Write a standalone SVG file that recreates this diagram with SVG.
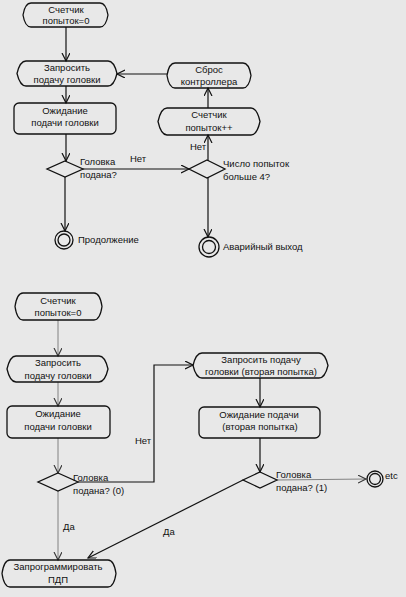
<svg xmlns="http://www.w3.org/2000/svg" width="406" height="597" viewBox="0 0 406 597">
<defs>
<marker id="ah" markerWidth="10" markerHeight="10" refX="8" refY="4" orient="auto" markerUnits="userSpaceOnUse">
<path d="M0,0 L8,4 L0,8" fill="none" stroke="#111" stroke-width="1.2"/>
</marker>
<marker id="ahg" markerWidth="10" markerHeight="10" refX="8" refY="4" orient="auto" markerUnits="userSpaceOnUse">
<path d="M0,0 L8,4 L0,8" fill="none" stroke="#333" stroke-width="1.1"/>
</marker>
</defs>
<style>
.s{fill:none;stroke:#111;stroke-width:1.3}
.t{font-family:"Liberation Sans",Arial,sans-serif;font-size:9.5px;fill:#111}
.c{text-anchor:middle}
.l{fill:none;stroke:#111;stroke-width:1.2}
.g{fill:none;stroke:#777;stroke-width:0.9}
</style>
<rect width="406" height="597" fill="#e8e8e8"/>

<g id="connectors">
<line class="l" x1="66" y1="27" x2="66" y2="61" marker-end="url(#ah)"/>
<line class="l" x1="66" y1="86" x2="66" y2="103" marker-end="url(#ah)"/>
<line class="l" x1="66" y1="134" x2="66" y2="161" marker-end="url(#ah)"/>
<line class="l" x1="65" y1="177" x2="65" y2="231" marker-end="url(#ah)"/>
<line class="l" x1="83" y1="169" x2="189" y2="169" marker-end="url(#ah)"/>
<line class="l" x1="208" y1="161" x2="208" y2="135" marker-end="url(#ah)"/>
<line class="l" x1="208" y1="108" x2="208" y2="88" marker-end="url(#ah)"/>
<line class="l" x1="167" y1="74" x2="117" y2="74" marker-end="url(#ah)"/>
<line class="l" x1="208" y1="177" x2="208" y2="237" marker-end="url(#ah)"/>
<text class="t" x="130" y="162">Нет</text>
<text class="t" x="190" y="150">Нет</text>

<line class="g" x1="58" y1="320" x2="58" y2="356" marker-end="url(#ahg)"/>
<line class="g" x1="58" y1="382" x2="58" y2="406" marker-end="url(#ahg)"/>
<line class="g" x1="58" y1="438" x2="58" y2="473" marker-end="url(#ahg)"/>
<polyline class="l" points="78,482 154,482 154,365 193,365" marker-end="url(#ah)"/>
<line class="l" x1="260" y1="378" x2="260" y2="407" marker-end="url(#ah)"/>
<line class="l" x1="260" y1="438" x2="260" y2="472" marker-end="url(#ah)"/>
<line class="g" x1="277" y1="480" x2="366" y2="479" marker-end="url(#ahg)"/>
<line class="l" x1="243" y1="480" x2="88" y2="558" marker-end="url(#ah)"/>
<line class="g" x1="58" y1="491" x2="58" y2="560" marker-end="url(#ahg)"/>
<text class="t" x="135" y="444">Нет</text>
<text class="t" x="163" y="535">Да</text>
<text class="t" x="63" y="530">Да</text>
</g>

<g id="n1"><path class="s" d="M31,3 H100 Q106,3 108,15 Q106,27 100,27 H31 Q25,27 23,15 Q25,3 31,3 Z"/>
<text class="t c" x="66" y="13">Счетчик</text><text class="t c" x="66" y="24">попыток=0</text></g>

<g id="n2"><path class="s" d="M26,61 H108 Q114,61 117,73.5 Q114,86 108,86 H26 Q20,86 17,73.5 Q20,61 26,61 Z"/>
<text class="t c" x="67" y="71">Запросить</text><text class="t c" x="67" y="83">подачу головки</text></g>

<g id="n3"><rect class="s" x="14" y="103" width="102" height="31" rx="5"/>
<text class="t c" x="65" y="114">Ожидание</text><text class="t c" x="65" y="126">подачи головки</text></g>

<g id="d1"><path class="s" d="M65,161 L83,169 L65,177 L47,169 Z"/>
<text class="t" x="80" y="165">Головка</text><text class="t" x="80" y="178">подана?</text></g>

<g id="f1"><circle class="s" cx="64" cy="240" r="9"/><circle class="s" cx="64" cy="240" r="6"/>
<text class="t" x="78" y="243">Продолжение</text></g>

<g id="n4"><path class="s" d="M175,63 H243 Q249,63 251,75.5 Q249,88 243,88 H175 Q169,88 167,75.5 Q169,63 175,63 Z"/>
<text class="t c" x="209" y="73">Сброс</text><text class="t c" x="209" y="85">контроллера</text></g>

<g id="n5"><path class="s" d="M167,108 H251 Q257,108 260,121.5 Q257,135 251,135 H167 Q161,135 158,121.5 Q161,108 167,108 Z"/>
<text class="t c" x="209" y="118">Счетчик</text><text class="t c" x="209" y="131">попыток++</text></g>

<g id="d2"><path class="s" d="M207,160 L225,169 L207,178 L189,169 Z"/>
<text class="t" x="223" y="167">Число попыток</text><text class="t" x="223" y="180">больше 4?</text></g>

<g id="f2"><circle class="s" cx="209" cy="247" r="10"/><circle class="s" cx="209" cy="247" r="6.5"/>
<text class="t" x="223" y="250">Аварийный выход</text></g>

<g id="n6"><path class="s" d="M23,293 H94 Q100,293 102,306.5 Q100,320 94,320 H23 Q17,320 15,306.5 Q17,293 23,293 Z"/>
<text class="t c" x="58" y="304">Счетчик</text><text class="t c" x="58" y="316">попыток=0</text></g>

<g id="n7"><path class="s" d="M16,356 H99 Q105,356 108,369 Q105,382 99,382 H16 Q10,382 7,369 Q10,356 16,356 Z"/>
<text class="t c" x="58" y="366">Запросить</text><text class="t c" x="58" y="379">подачу головки</text></g>

<g id="n8"><rect class="s" x="7" y="406" width="103" height="32" rx="5"/>
<text class="t c" x="58" y="417">Ожидание</text><text class="t c" x="58" y="430">подачи головки</text></g>

<g id="d3"><path class="s" d="M58,473 L78,482 L58,491 L38,482 Z"/>
<text class="t" x="73" y="481">Головка</text><text class="t" x="73" y="494">подана? (0)</text></g>

<g id="n9"><path class="s" d="M202,353 H319 Q325,353 328,365.5 Q325,378 319,378 H202 Q196,378 193,365.5 Q196,353 202,353 Z"/>
<text class="t c" x="261" y="363">Запросить подачу</text><text class="t c" x="261" y="375">головки (вторая попытка)</text></g>

<g id="n10"><rect class="s" x="199" y="407" width="121" height="31" rx="5"/>
<text class="t c" x="259" y="418">Ожидание подачи</text><text class="t c" x="260" y="430">(вторая попытка)</text></g>

<g id="d4"><path class="s" d="M260,472 L277,480 L260,488 L243,480 Z"/>
<text class="t" x="276" y="478">Головка</text><text class="t" x="276" y="491">подана? (1)</text></g>

<g id="f3"><circle class="s" cx="375" cy="479" r="8"/><circle class="s" cx="375" cy="479" r="5.5"/>
<text class="t" x="385" y="479">etc</text></g>

<g id="n11"><path class="s" d="M10,560 H108 Q114,560 116,573.5 Q114,587 108,587 H10 Q4,587 2,573.5 Q4,560 10,560 Z"/>
<text class="t c" x="58" y="570">Запрограммировать</text><text class="t c" x="58" y="583">ПДП</text></g>
</svg>
